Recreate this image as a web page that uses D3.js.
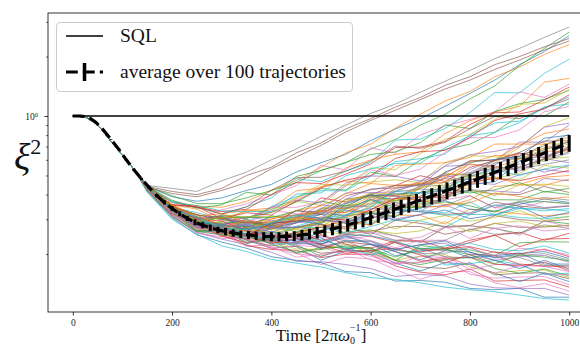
<!DOCTYPE html>
<html>
<head>
<meta charset="utf-8">
<script src="https://cdn.jsdelivr.net/npm/d3@7"></script>
<style>
  body { margin: 0; background: #fff; }
  svg { display: block; }
</style>
</head>
<body>
<div id="chart"></div>
<script>
// sample times of the single trajectories
const trajTimes = [0, 25, 50, 75, 100, 125, 150, 200, 250, 300, 350, 400, 450, 500,
  550, 600, 650, 700, 750, 800, 850, 900, 950, 1000];
// every run starts from the same squeezing curve up to t = 125
const sharedStart = [1.0, 0.99, 0.905, 0.755, 0.635, 0.53];
// values from t = 150 to t = 1000, one row per trajectory
const runs = [
  [0.44,0.39,0.37,0.385,0.42,0.45,0.52,0.58,0.64,0.75,0.86,0.97,1.12,1.3,1.52,1.82,2.12,2.55],
  [0.435,0.37,0.35,0.345,0.37,0.42,0.47,0.55,0.65,0.72,0.87,1.02,1.19,1.33,1.58,1.77,2.05,2.3],
  [0.44,0.395,0.36,0.36,0.385,0.42,0.46,0.53,0.58,0.68,0.76,0.9,1.02,1.22,1.42,1.8,2.2,2.66],
  [0.43,0.33,0.294,0.25,0.238,0.239,0.251,0.222,0.212,0.204,0.231,0.211,0.209,0.229,0.249,0.218,0.238,0.24],
  [0.43,0.35,0.274,0.28,0.27,0.272,0.288,0.329,0.31,0.381,0.353,0.436,0.488,0.518,0.592,0.738,0.737,0.9],
  [0.44,0.415,0.4,0.43,0.5,0.55,0.65,0.73,0.86,0.97,1.11,1.24,1.43,1.58,1.82,2.0,2.24,2.47],
  [0.42,0.315,0.262,0.252,0.219,0.223,0.203,0.177,0.193,0.189,0.167,0.149,0.163,0.163,0.143,0.135,0.142,0.13],
  [0.445,0.43,0.415,0.47,0.52,0.6,0.68,0.79,0.9,1.03,1.15,1.32,1.5,1.7,1.95,2.2,2.5,2.82],
  [0.42,0.325,0.279,0.26,0.273,0.25,0.254,0.274,0.329,0.323,0.361,0.431,0.508,0.505,0.577,0.694,0.884,0.98],
  [0.43,0.37,0.345,0.319,0.347,0.385,0.482,0.465,0.526,0.582,0.756,0.764,0.865,1.04,1.314,1.31,1.643,1.94],
  [0.415,0.305,0.25,0.23,0.214,0.194,0.186,0.181,0.163,0.161,0.146,0.147,0.144,0.134,0.132,0.134,0.121,0.121],
  [0.44,0.355,0.352,0.32,0.333,0.342,0.418,0.432,0.546,0.599,0.64,0.658,0.813,0.945,1.048,1.12,1.484,1.55],
  [0.435,0.335,0.281,0.278,0.25,0.26,0.245,0.223,0.26,0.265,0.247,0.23,0.273,0.278,0.27,0.254,0.294,0.285],
  [0.43,0.345,0.307,0.283,0.288,0.291,0.307,0.385,0.367,0.399,0.445,0.499,0.466,0.549,0.594,0.649,0.614,0.7],
  [0.42,0.31,0.257,0.238,0.223,0.204,0.184,0.183,0.177,0.169,0.154,0.158,0.155,0.141,0.135,0.134,0.134,0.124],
  [0.435,0.405,0.39,0.42,0.46,0.54,0.62,0.71,0.83,0.95,1.07,1.21,1.37,1.52,1.72,1.92,2.16,2.4],
  [0.43,0.355,0.298,0.335,0.359,0.398,0.443,0.562,0.534,0.69,0.649,0.802,0.89,0.96,1.051,1.327,1.242,1.45],
  [0.425,0.33,0.281,0.273,0.245,0.228,0.25,0.226,0.242,0.257,0.235,0.23,0.235,0.268,0.252,0.255,0.281,0.27],
  [0.44,0.355,0.306,0.31,0.302,0.339,0.37,0.353,0.447,0.464,0.475,0.46,0.582,0.631,0.622,0.611,0.725,0.72],
  [0.41,0.3,0.252,0.22,0.206,0.188,0.18,0.172,0.161,0.152,0.149,0.143,0.136,0.132,0.129,0.124,0.119,0.117],
  [0.42,0.335,0.27,0.265,0.262,0.25,0.23,0.26,0.292,0.308,0.309,0.394,0.427,0.45,0.465,0.592,0.676,0.74],
  [0.44,0.345,0.309,0.274,0.266,0.281,0.31,0.303,0.273,0.306,0.315,0.314,0.284,0.338,0.329,0.32,0.312,0.32],
  [0.44,0.375,0.341,0.355,0.411,0.398,0.494,0.53,0.582,0.639,0.658,0.733,0.901,0.864,1.051,1.156,1.213,1.35],
  [0.425,0.32,0.27,0.26,0.221,0.211,0.209,0.192,0.2,0.199,0.174,0.162,0.157,0.168,0.146,0.147,0.148,0.136],
  [0.43,0.335,0.296,0.31,0.302,0.345,0.375,0.363,0.458,0.497,0.495,0.469,0.556,0.567,0.559,0.526,0.609,0.58],
  [0.43,0.335,0.291,0.264,0.263,0.244,0.243,0.284,0.255,0.261,0.276,0.276,0.252,0.265,0.286,0.273,0.274,0.28],
  [0.42,0.31,0.27,0.25,0.251,0.215,0.201,0.194,0.212,0.187,0.179,0.181,0.188,0.158,0.151,0.153,0.154,0.14],
  [0.43,0.34,0.294,0.27,0.242,0.281,0.289,0.298,0.287,0.325,0.373,0.387,0.395,0.494,0.546,0.553,0.604,0.66],
  [0.43,0.355,0.293,0.305,0.328,0.335,0.386,0.451,0.446,0.546,0.536,0.644,0.763,0.806,0.959,1.145,1.164,1.36],
  [0.435,0.34,0.296,0.305,0.279,0.285,0.311,0.317,0.341,0.375,0.335,0.334,0.323,0.368,0.315,0.34,0.339,0.33],
  [0.43,0.325,0.262,0.268,0.226,0.239,0.218,0.186,0.208,0.205,0.18,0.164,0.181,0.177,0.16,0.145,0.16,0.145],
  [0.44,0.355,0.338,0.293,0.335,0.324,0.381,0.439,0.469,0.456,0.562,0.572,0.58,0.617,0.721,0.721,0.72,0.78],
  [0.42,0.325,0.26,0.26,0.246,0.235,0.202,0.216,0.217,0.212,0.186,0.221,0.214,0.21,0.197,0.228,0.231,0.23],
  [0.44,0.365,0.345,0.328,0.337,0.4,0.46,0.455,0.508,0.572,0.693,0.696,0.744,0.905,1.039,1.048,1.208,1.4],
  [0.42,0.335,0.264,0.275,0.276,0.276,0.304,0.355,0.344,0.407,0.39,0.441,0.482,0.475,0.505,0.572,0.519,0.56],
  [0.425,0.32,0.286,0.268,0.235,0.214,0.219,0.202,0.207,0.209,0.185,0.172,0.169,0.181,0.157,0.16,0.161,0.15],
  [0.44,0.35,0.291,0.315,0.283,0.334,0.32,0.321,0.364,0.405,0.349,0.354,0.376,0.396,0.343,0.343,0.368,0.36],
  [0.43,0.335,0.317,0.264,0.294,0.268,0.302,0.337,0.352,0.347,0.429,0.452,0.461,0.505,0.599,0.613,0.619,0.68],
  [0.43,0.33,0.274,0.265,0.262,0.235,0.212,0.211,0.225,0.202,0.187,0.195,0.199,0.172,0.16,0.165,0.166,0.152],
  [0.43,0.345,0.324,0.299,0.29,0.348,0.391,0.419,0.418,0.495,0.588,0.608,0.642,0.801,0.922,0.941,1.099,1.25],
  [0.43,0.335,0.274,0.28,0.276,0.272,0.288,0.318,0.286,0.324,0.296,0.317,0.334,0.302,0.316,0.348,0.306,0.325],
  [0.44,0.355,0.301,0.305,0.27,0.276,0.296,0.302,0.341,0.391,0.395,0.428,0.485,0.593,0.597,0.71,0.816,0.86],
  [0.42,0.325,0.264,0.263,0.23,0.236,0.222,0.195,0.213,0.216,0.186,0.177,0.187,0.193,0.169,0.16,0.168,0.155],
  [0.425,0.33,0.286,0.254,0.252,0.23,0.228,0.251,0.224,0.214,0.233,0.234,0.214,0.235,0.249,0.258,0.235,0.255],
  [0.42,0.325,0.289,0.281,0.31,0.295,0.306,0.338,0.408,0.409,0.413,0.467,0.502,0.46,0.451,0.505,0.536,0.52],
  [0.44,0.355,0.345,0.319,0.347,0.421,0.487,0.49,0.526,0.592,0.704,0.686,0.735,0.863,0.996,0.97,1.099,1.22],
  [0.425,0.315,0.257,0.24,0.241,0.213,0.221,0.217,0.199,0.201,0.181,0.182,0.195,0.167,0.177,0.177,0.158,0.158],
  [0.435,0.345,0.301,0.31,0.279,0.29,0.316,0.322,0.362,0.396,0.365,0.343,0.353,0.394,0.344,0.37,0.387,0.375],
  [0.43,0.345,0.276,0.289,0.245,0.281,0.265,0.265,0.307,0.351,0.335,0.354,0.427,0.498,0.485,0.512,0.604,0.62],
  [0.43,0.33,0.293,0.252,0.255,0.226,0.226,0.238,0.216,0.198,0.21,0.204,0.176,0.179,0.186,0.177,0.158,0.16],
  [0.44,0.34,0.294,0.281,0.3,0.275,0.273,0.289,0.334,0.323,0.323,0.341,0.373,0.337,0.33,0.357,0.38,0.365],
  [0.425,0.325,0.299,0.255,0.252,0.27,0.305,0.298,0.306,0.335,0.404,0.387,0.395,0.452,0.493,0.451,0.49,0.5],
  [0.43,0.355,0.293,0.315,0.307,0.325,0.366,0.429,0.422,0.52,0.494,0.599,0.678,0.72,0.826,1.006,0.999,1.18],
  [0.435,0.33,0.294,0.275,0.247,0.226,0.24,0.213,0.231,0.223,0.206,0.184,0.19,0.193,0.178,0.174,0.182,0.165],
  [0.44,0.35,0.306,0.305,0.283,0.307,0.315,0.302,0.38,0.427,0.432,0.446,0.561,0.637,0.662,0.7,0.877,0.92],
  [0.43,0.335,0.302,0.259,0.28,0.246,0.272,0.294,0.301,0.28,0.334,0.328,0.318,0.323,0.366,0.35,0.341,0.35],
  [0.42,0.31,0.255,0.245,0.238,0.218,0.193,0.199,0.207,0.195,0.177,0.195,0.192,0.177,0.16,0.175,0.173,0.163],
  [0.43,0.34,0.294,0.27,0.247,0.286,0.3,0.318,0.315,0.364,0.415,0.426,0.423,0.515,0.546,0.538,0.569,0.6],
  [0.42,0.325,0.269,0.255,0.265,0.233,0.258,0.26,0.252,0.263,0.254,0.262,0.292,0.259,0.286,0.294,0.276,0.28],
  [0.44,0.365,0.352,0.331,0.328,0.328,0.403,0.408,0.499,0.54,0.575,0.578,0.691,0.793,0.829,0.925,1.113,1.15],
  [0.43,0.33,0.281,0.278,0.248,0.26,0.242,0.214,0.235,0.232,0.206,0.187,0.208,0.205,0.186,0.169,0.186,0.168],
  [0.42,0.325,0.296,0.245,0.263,0.23,0.257,0.278,0.291,0.28,0.345,0.348,0.347,0.377,0.44,0.448,0.446,0.48],
  [0.435,0.34,0.284,0.291,0.289,0.28,0.259,0.289,0.313,0.323,0.309,0.362,0.367,0.351,0.326,0.367,0.369,0.36],
  [0.425,0.32,0.28,0.247,0.228,0.245,0.241,0.224,0.202,0.208,0.214,0.198,0.18,0.2,0.196,0.178,0.174,0.172],
  [0.435,0.345,0.283,0.285,0.281,0.276,0.294,0.334,0.325,0.386,0.381,0.441,0.504,0.504,0.566,0.647,0.626,0.69],
  [0.445,0.35,0.316,0.305,0.294,0.285,0.332,0.317,0.378,0.396,0.395,0.371,0.407,0.42,0.403,0.4,0.44,0.41],
  [0.43,0.355,0.296,0.31,0.283,0.345,0.345,0.367,0.442,0.535,0.5,0.538,0.654,0.776,0.779,0.851,1.05,1.12],
  [0.44,0.335,0.302,0.259,0.268,0.23,0.238,0.248,0.233,0.207,0.229,0.214,0.194,0.191,0.206,0.192,0.175,0.175],
  [0.43,0.33,0.289,0.27,0.289,0.265,0.268,0.289,0.355,0.359,0.375,0.446,0.513,0.5,0.516,0.607,0.681,0.7],
  [0.43,0.335,0.288,0.27,0.242,0.27,0.273,0.273,0.254,0.276,0.299,0.294,0.274,0.317,0.318,0.306,0.302,0.31],
  [0.43,0.325,0.264,0.258,0.255,0.233,0.235,0.242,0.211,0.225,0.196,0.208,0.212,0.192,0.196,0.203,0.178,0.178],
  [0.44,0.355,0.311,0.32,0.289,0.299,0.332,0.35,0.404,0.455,0.445,0.456,0.495,0.572,0.548,0.605,0.663,0.665],
  [0.44,0.345,0.286,0.31,0.269,0.313,0.295,0.298,0.338,0.378,0.344,0.345,0.386,0.417,0.377,0.376,0.415,0.4],
  [0.44,0.355,0.348,0.302,0.324,0.315,0.371,0.433,0.474,0.499,0.61,0.66,0.67,0.779,0.949,1.025,1.085,1.28],
  [0.435,0.335,0.288,0.277,0.28,0.25,0.231,0.231,0.248,0.226,0.211,0.223,0.227,0.198,0.186,0.194,0.197,0.182],
  [0.425,0.335,0.288,0.265,0.238,0.27,0.273,0.283,0.268,0.31,0.352,0.368,0.377,0.473,0.525,0.548,0.609,0.685],
  [0.425,0.325,0.274,0.255,0.265,0.228,0.247,0.244,0.238,0.247,0.235,0.243,0.276,0.24,0.27,0.278,0.262,0.268],
  [0.42,0.315,0.275,0.265,0.235,0.22,0.23,0.219,0.231,0.233,0.21,0.201,0.202,0.216,0.191,0.197,0.201,0.186],
  [0.43,0.33,0.286,0.284,0.264,0.292,0.305,0.293,0.369,0.405,0.403,0.391,0.469,0.498,0.485,0.475,0.562,0.545],
  [0.43,0.33,0.307,0.259,0.283,0.249,0.277,0.3,0.306,0.285,0.339,0.328,0.314,0.319,0.355,0.34,0.331,0.34],
  [0.43,0.325,0.274,0.265,0.268,0.242,0.226,0.225,0.246,0.224,0.211,0.223,0.233,0.204,0.192,0.201,0.206,0.19],
  [0.44,0.355,0.304,0.284,0.261,0.302,0.316,0.328,0.324,0.373,0.436,0.456,0.46,0.577,0.631,0.635,0.688,0.745],
  [0.445,0.35,0.293,0.305,0.307,0.306,0.33,0.371,0.349,0.402,0.371,0.411,0.435,0.408,0.423,0.46,0.412,0.43],
  [0.44,0.34,0.301,0.294,0.263,0.245,0.257,0.234,0.252,0.246,0.228,0.205,0.214,0.218,0.204,0.2,0.212,0.194],
  [0.42,0.325,0.276,0.268,0.25,0.27,0.275,0.26,0.317,0.34,0.335,0.327,0.397,0.423,0.417,0.409,0.483,0.47],
  [0.435,0.335,0.307,0.254,0.273,0.235,0.257,0.273,0.275,0.252,0.297,0.286,0.276,0.279,0.313,0.299,0.293,0.3],
  [0.425,0.32,0.27,0.265,0.265,0.246,0.224,0.231,0.25,0.234,0.215,0.235,0.235,0.216,0.195,0.214,0.21,0.198],
  [0.435,0.345,0.304,0.279,0.252,0.286,0.294,0.298,0.287,0.335,0.383,0.407,0.423,0.536,0.599,0.626,0.708,0.81],
  [0.42,0.325,0.264,0.27,0.265,0.257,0.268,0.292,0.267,0.299,0.268,0.297,0.313,0.293,0.306,0.332,0.296,0.31],
  [0.435,0.33,0.291,0.278,0.251,0.238,0.253,0.23,0.25,0.248,0.232,0.212,0.22,0.227,0.211,0.208,0.22,0.202],
  [0.43,0.335,0.286,0.284,0.264,0.286,0.295,0.284,0.359,0.394,0.403,0.409,0.52,0.583,0.603,0.625,0.772,0.8],
  [0.44,0.345,0.317,0.269,0.299,0.268,0.302,0.332,0.342,0.323,0.382,0.374,0.356,0.363,0.408,0.391,0.379,0.39],
  [0.42,0.31,0.26,0.25,0.246,0.225,0.205,0.211,0.22,0.214,0.193,0.214,0.212,0.198,0.179,0.198,0.193,0.185],
  [0.425,0.335,0.288,0.27,0.247,0.286,0.294,0.308,0.296,0.335,0.383,0.387,0.386,0.463,0.482,0.47,0.5,0.53],
  [0.43,0.34,0.278,0.27,0.286,0.257,0.288,0.297,0.291,0.309,0.301,0.317,0.355,0.317,0.352,0.364,0.344,0.352],
  [0.44,0.345,0.316,0.299,0.289,0.28,0.332,0.326,0.394,0.423,0.445,0.447,0.515,0.593,0.597,0.655,0.747,0.75],
  [0.425,0.33,0.276,0.268,0.245,0.254,0.245,0.219,0.255,0.259,0.247,0.23,0.273,0.278,0.27,0.249,0.294,0.275],
  [0.43,0.34,0.302,0.274,0.278,0.268,0.287,0.342,0.342,0.356,0.419,0.452,0.442,0.505,0.578,0.613,0.59,0.65],
  [0.44,0.345,0.294,0.306,0.31,0.31,0.296,0.338,0.376,0.389,0.371,0.436,0.448,0.426,0.395,0.449,0.452,0.44],
  [0.435,0.335,0.309,0.27,0.266,0.286,0.316,0.303,0.315,0.344,0.415,0.407,0.423,0.494,0.535,0.5,0.54,0.565]
];
// average over the runs, 66 equally spaced samples from t = 0 to t = 1000
const meanValues = [1.0,1.0,0.99,0.93,0.85,0.76,0.68,0.6,0.535,0.48,0.435,0.395,0.365,0.34,0.32,0.303,
  0.29,0.28,0.272,0.265,0.26,0.256,0.252,0.25,0.248,0.246,0.245,0.245,0.246,0.247,0.25,0.253,0.257,
  0.262,0.268,0.274,0.281,0.289,0.297,0.306,0.315,0.325,0.335,0.346,0.357,0.369,0.381,0.394,0.407,
  0.42,0.434,0.449,0.464,0.48,0.497,0.514,0.532,0.551,0.57,0.59,0.611,0.633,0.656,0.68,0.705,0.73];
const meanErrors = [0,0,0,0.001,0.002,0.003,0.004,0.005,0.006,0.007,0.008,0.008,0.009,0.009,0.009,0.009,
  0.01,0.01,0.01,0.01,0.011,0.011,0.011,0.012,0.012,0.012,0.013,0.013,0.014,0.014,0.015,0.016,0.017,
  0.018,0.019,0.02,0.021,0.022,0.024,0.025,0.027,0.028,0.03,0.031,0.033,0.034,0.036,0.037,0.039,
  0.041,0.042,0.044,0.046,0.047,0.049,0.051,0.053,0.055,0.057,0.059,0.061,0.063,0.065,0.067,0.069,0.071];
const sqlLevel = 1;
const tEnd = 1000;
const xTicks = [0, 200, 400, 600, 800, 1000];
const yMajorTicks = [1];
const yMinorTicks = [0.2, 0.3, 0.4, 0.5, 0.6, 0.7, 0.8, 0.9, 2, 3];
const legendLabels = ['SQL', 'average over 100 trajectories'];

const width = 580, height = 345;
const margin = { top: 13, right: -14, bottom: 33, left: 48 };
const serif = '"Liberation Serif", "DejaVu Serif", serif';

const svg = d3.select('#chart').append('svg')
  .attr('width', width)
  .attr('height', height);

const x = d3.scaleLinear()
  .domain([-50, 1050])
  .range([margin.left, width - margin.right]);
const y = d3.scaleLog()
  .domain([0.1018, 3.323])
  .range([height - margin.bottom, margin.top]);

svg.append('clipPath').attr('id', 'plot-area')
  .append('rect')
  .attr('x', margin.left).attr('y', margin.top)
  .attr('width', width - margin.right - margin.left)
  .attr('height', height - margin.bottom - margin.top);

const plot = svg.append('g').attr('clip-path', 'url(#plot-area)');
const colors = d3.schemeCategory10;

const line = d3.line()
  .x((d, i) => x(trajTimes[i]))
  .y(d => y(d));

plot.append('g')
  .selectAll('path')
  .data(runs.map(r => sharedStart.concat(r)))
  .join('path')
  .attr('d', line)
  .attr('fill', 'none')
  .attr('stroke', (d, i) => colors[i % 10])
  .attr('stroke-width', 0.8)
  .attr('stroke-opacity', 0.85);

plot.append('line')
  .attr('x1', x(0)).attr('x2', x(tEnd))
  .attr('y1', y(sqlLevel)).attr('y2', y(sqlLevel))
  .attr('stroke', '#000')
  .attr('stroke-width', 1.4);

const meanTimes = meanValues.map((_, i) => i * tEnd / (meanValues.length - 1));

plot.append('path')
  .datum(meanValues)
  .attr('d', d3.line().x((d, i) => x(meanTimes[i])).y(d => y(d)))
  .attr('fill', 'none')
  .attr('stroke', '#000')
  .attr('stroke-width', 3.2)
  .attr('stroke-dasharray', '11.8,5.1');

plot.append('g')
  .selectAll('line')
  .data(meanValues.map((v, i) => ({ t: meanTimes[i], v, e: meanErrors[i] })).filter(d => d.e > 0))
  .join('line')
  .attr('x1', d => x(d.t)).attr('x2', d => x(d.t))
  .attr('y1', d => y(d.v - d.e)).attr('y2', d => y(d.v + d.e))
  .attr('stroke', '#000')
  .attr('stroke-width', 3);

// frame
svg.append('rect')
  .attr('x', margin.left).attr('y', margin.top)
  .attr('width', width - margin.right - margin.left)
  .attr('height', height - margin.bottom - margin.top)
  .attr('fill', 'none')
  .attr('stroke', '#000')
  .attr('stroke-width', 0.8);

// axes
svg.append('g')
  .attr('transform', `translate(0,${height - margin.bottom})`)
  .call(d3.axisBottom(x).tickValues(xTicks).tickSize(3.5).tickPadding(3.5).tickFormat(d3.format('d')))
  .call(g => g.select('.domain').remove())
  .call(g => g.selectAll('line').attr('stroke-width', 0.8))
  .call(g => g.selectAll('text').attr('font-family', serif).attr('font-size', 9.5).attr('fill', '#222'));

svg.append('g')
  .attr('transform', `translate(${margin.left},0)`)
  .call(d3.axisLeft(y).tickValues(yMinorTicks).tickSize(2).tickFormat(''))
  .call(g => g.select('.domain').remove())
  .call(g => g.selectAll('line').attr('stroke-width', 0.6));

const yMajor = svg.append('g')
  .attr('transform', `translate(${margin.left},0)`)
  .call(d3.axisLeft(y).tickValues(yMajorTicks).tickSize(3.5).tickPadding(3.5).tickFormat(''))
  .call(g => g.select('.domain').remove())
  .call(g => g.selectAll('line').attr('stroke-width', 0.8));

yMajor.selectAll('.tick text')
  .attr('font-family', serif)
  .attr('font-size', 9.5)
  .attr('fill', '#222')
  .attr('dx', -3)
  .text('10')
  .append('tspan')
  .attr('dy', '-0.45em')
  .attr('font-size', 6.5)
  .text('0');

// axis titles
const xTitle = svg.append('text')
  .attr('x', (margin.left + width - margin.right) / 2)
  .attr('y', 341)
  .attr('text-anchor', 'middle')
  .attr('font-family', serif)
  .attr('font-size', 17)
  .attr('fill', '#111');
xTitle.append('tspan').text('Time [2π');
xTitle.append('tspan').attr('font-style', 'italic').text('ω');
xTitle.append('tspan').attr('font-size', 10).attr('dy', 3).text('0');
xTitle.append('tspan').attr('font-size', 10).attr('dy', -13).attr('dx', -5).text('−1');
xTitle.append('tspan').attr('dy', 10).text(']');

const yTitle = svg.append('text')
  .attr('x', 14)
  .attr('y', 170)
  .attr('font-family', serif)
  .attr('font-size', 38)
  .attr('fill', '#111');
yTitle.append('tspan').attr('font-style', 'italic').text('ξ');
yTitle.append('tspan').attr('font-size', 22).attr('dy', -16).text('2');

// legend
const legend = svg.append('g');
legend.append('rect')
  .attr('x', 56.5).attr('y', 22.5)
  .attr('width', 296).attr('height', 69)
  .attr('rx', 3.5)
  .attr('fill', '#fff').attr('fill-opacity', 0.8)
  .attr('stroke', '#ccc').attr('stroke-width', 1);

const rowY = [36, 72];
legend.append('line')
  .attr('x1', 66).attr('x2', 103)
  .attr('y1', rowY[0]).attr('y2', rowY[0])
  .attr('stroke', '#000').attr('stroke-width', 1.4);
legend.append('line')
  .attr('x1', 66).attr('x2', 103)
  .attr('y1', rowY[1]).attr('y2', rowY[1])
  .attr('stroke', '#000').attr('stroke-width', 3.2)
  .attr('stroke-dasharray', '11.8,5.1');
legend.append('line')
  .attr('x1', 84.5).attr('x2', 84.5)
  .attr('y1', rowY[1] - 9).attr('y2', rowY[1] + 9)
  .attr('stroke', '#000').attr('stroke-width', 3.5);

const labels = legend.selectAll('text.label')
  .data(legendLabels)
  .join('text')
  .attr('class', 'label')
  .attr('x', 120)
  .attr('y', (d, i) => rowY[i])
  .attr('dy', '0.33em')
  .attr('font-family', serif)
  .attr('font-size', 18)
  .attr('fill', '#111')
  .text(d => d);

// fit the legend text to the width it has in the figure
const longWidth = labels.filter((d, i) => i === 1).node().getComputedTextLength();
labels.attr('font-size', 18 * 226 / longWidth);
</script>
</body>
</html>
